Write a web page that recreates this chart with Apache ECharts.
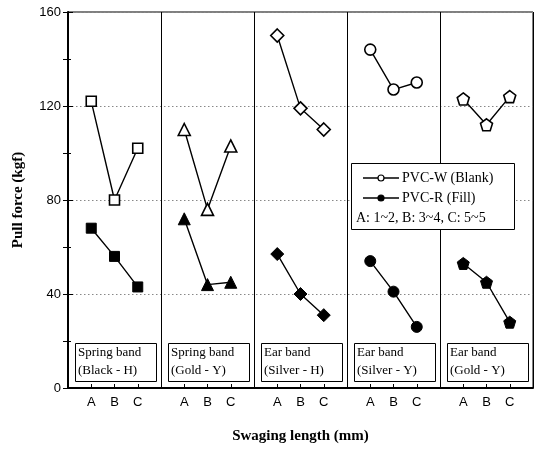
<!DOCTYPE html>
<html><head><meta charset="utf-8">
<script src="https://cdn.jsdelivr.net/npm/echarts@6/dist/echarts.min.js"></script>
<style>html,body{margin:0;padding:0;background:#fff}#c{width:535px;height:449px}</style>
</head><body><div id="c"></div>
<script>
// ---- data ----
const groupLabels = ['Spring band\n(Black - H)', 'Spring band\n(Gold - Y)', 'Ear band\n(Silver - H)', 'Ear band\n(Silver - Y)', 'Ear band\n(Gold - Y)'];
const swageLabels = ['A', 'B', 'C'];
const yTickLabels = [0, 40, 80, 120, 160];
const pvcW = [
  [122, 80, 102],
  [110, 76, 103],
  [150, 119, 110],
  [144, 127, 130],
  [123, 112, 124]
];
const pvcR = [
  [68, 56, 43],
  [72, 44, 45],
  [57, 40, 31],
  [54, 41, 26],
  [53, 45, 28]
];
const legendNames = ['PVC-W (Blank)', 'PVC-R (Fill)'];
const legendNote = 'A: 1~2, B: 3~4, C: 5~5';
const xTitle = 'Swaging length (mm)';
const yTitle = 'Pull force (kgf)';

// ---- styles ----
const pentagon = 'path://M0,-10 L9.51,-3.09 L5.88,8.09 L-5.88,8.09 L-9.51,-3.09 Z';
const symbols = ['rect', 'triangle', 'diamond', 'circle', pentagon];
const symSizes = [10, 12, 13, 11, 12];
const serif = 'Liberation Serif';
const sans = 'Liberation Sans';
const G = 4; // x-units per group

const labelValues = [];
groupLabels.forEach((_, g) => swageLabels.forEach((_, i) => labelValues.push(g * G + 1 + i)));

const series = [];
groupLabels.forEach((_, g) => {
  [pvcW, pvcR].forEach((arr, k) => {
    series.push({
      type: 'line',
      name: legendNames[k],
      xAxisIndex: 0,
      data: arr[g].map((v, i) => [g * G + 1 + i, v]),
      symbol: symbols[g],
      symbolSize: symSizes[g],
      showSymbol: true,
      animation: false,
      lineStyle: { color: '#000', width: 1.4 },
      itemStyle: k === 0
        ? { color: '#fff', borderColor: '#000', borderWidth: 1.6 }
        : { color: '#000', borderColor: '#000', borderWidth: 1 },
      z: 3
    });
  });
});

const chart = echarts.init(document.getElementById('c'), null, { renderer: 'canvas' });
const option = {
  animation: false,
  backgroundColor: '#fff',
  grid: { left: 68, right: 2, top: 12, bottom: 59, show: true, borderColor: '#000', borderWidth: 1 },
  xAxis: [{
    type: 'value', min: 0, max: groupLabels.length * G, interval: G, position: 'bottom',
    name: xTitle, nameLocation: 'middle', nameGap: 41,
    nameTextStyle: { fontFamily: serif, fontWeight: 'bold', fontSize: 15, color: '#000' },
    axisLine: { show: true, lineStyle: { color: '#000', width: 2 } },
    axisTick: { show: true, inside: true, length: 4, customValues: labelValues, lineStyle: { color: '#000', width: 1 } },
    axisLabel: {
      customValues: labelValues, fontFamily: sans, fontSize: 13, color: '#000', margin: 8,
      formatter: v => swageLabels[Math.round(v) % G - 1] || ''
    },
    splitLine: { show: false }
  }, {
    // group dividers
    type: 'value', min: 0, max: groupLabels.length * G, interval: G, position: 'top',
    axisLine: { show: false }, axisTick: { show: false }, axisLabel: { show: false },
    splitLine: { show: true, lineStyle: { color: '#000', width: 1 } }
  }],
  yAxis: [{
    type: 'value', min: 0, max: 160, interval: 40, position: 'left',
    name: yTitle, nameLocation: 'middle', nameGap: 42,
    nameTextStyle: { fontFamily: serif, fontWeight: 'bold', fontSize: 15, color: '#000' },
    axisLine: { show: true, lineStyle: { color: '#000', width: 2 } },
    axisTick: { show: true, inside: true, length: 5, lineStyle: { color: '#000' } },
    minorTick: { show: true, splitNumber: 2, length: 3, lineStyle: { color: '#000' } },
    axisLabel: { fontFamily: sans, fontSize: 13, color: '#000', margin: 7,
      customValues: yTickLabels },
    splitLine: { show: true, lineStyle: { color: '#888', type: [1.5, 2.5], width: 1 } }
  }, {
    type: 'value', min: 0, max: 160, interval: 20, position: 'right',
    axisLine: { show: true, lineStyle: { color: '#000', width: 1 } },
    axisTick: { show: true, inside: true, length: 5, lineStyle: { color: '#000' } },
    axisLabel: { show: false },
    splitLine: { show: false }
  }],
  series: series
};
chart.setOption(option);

// group label boxes + legend box
const graphics = [];
groupLabels.forEach((lab, g) => {
  const p0 = chart.convertToPixel({ xAxisIndex: 0, yAxisIndex: 0 }, [g * G, 0]);
  const x = p0[0] + 7;
  graphics.push({
    type: 'rect', shape: { x: x + 0.5, y: 343.5, width: 81, height: 38 },
    style: { fill: '#fff', stroke: '#000', lineWidth: 1 }, z: 10
  });
  graphics.push({
    type: 'text', x: x + 3, y: 344, z: 11,
    style: { text: lab, font: '13px "' + serif + '"', fill: '#000', lineHeight: 18, verticalAlign: 'top' }
  });
});
const lx = 351, ly = 163;
graphics.push({ type: 'rect', shape: { x: lx + 0.5, y: ly + 0.5, width: 163, height: 66 },
  style: { fill: '#fff', stroke: '#000', lineWidth: 1 }, z: 10 });
[0, 1].forEach(k => {
  const yy = ly + 15 + k * 20;
  graphics.push({ type: 'line', shape: { x1: lx + 12, y1: yy, x2: lx + 48, y2: yy },
    style: { stroke: '#000', lineWidth: 1.4 }, z: 11 });
  graphics.push({ type: 'circle', shape: { cx: lx + 30, cy: yy, r: 3 },
    style: { fill: k === 0 ? '#fff' : '#000', stroke: '#000', lineWidth: 1.2 }, z: 12 });
  graphics.push({ type: 'text', x: lx + 51, y: yy, z: 11,
    style: { text: legendNames[k], font: '14px "' + serif + '"', fill: '#000', verticalAlign: 'middle' } });
});
graphics.push({ type: 'text', x: lx + 5, y: ly + 55, z: 11,
  style: { text: legendNote, font: '14px "' + serif + '"', fill: '#000', verticalAlign: 'middle' } });
chart.setOption({ graphic: graphics });
</script></body></html>
